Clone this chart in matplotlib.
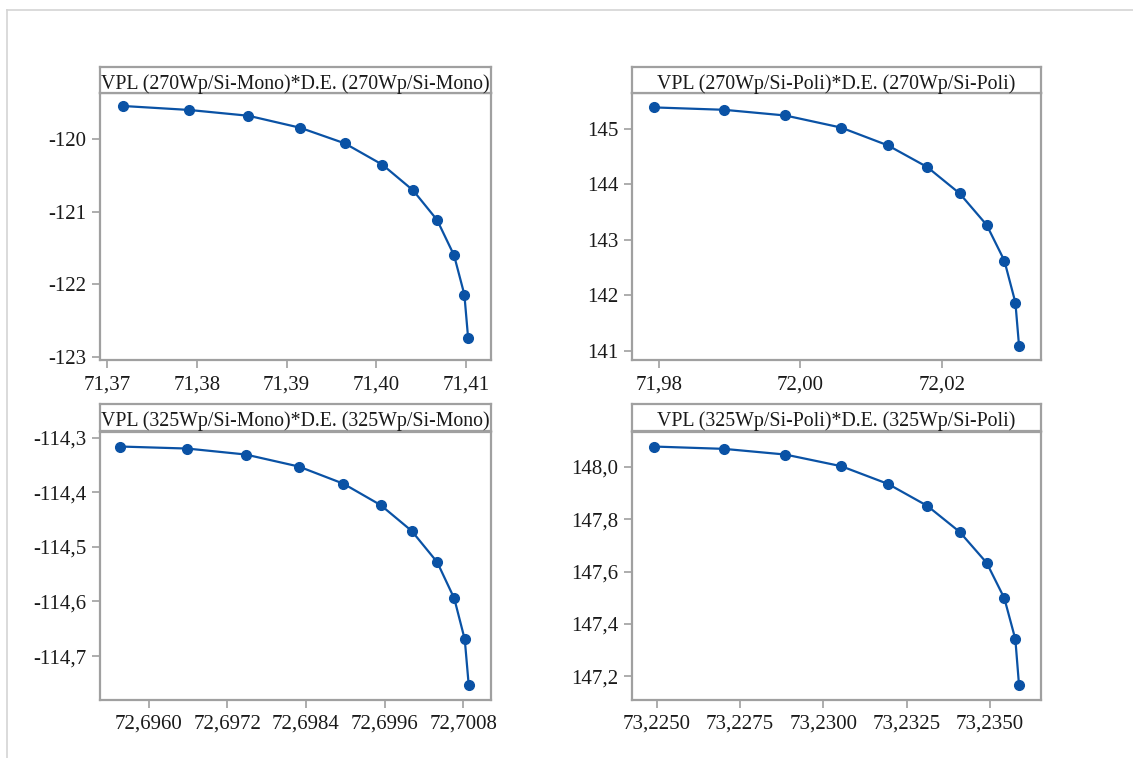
import matplotlib
matplotlib.use("Agg")
import matplotlib.pyplot as plt
from matplotlib.ticker import FuncFormatter
from matplotlib.lines import Line2D

plt.rcParams['font.family'] = ['Liberation Serif', 'DejaVu Serif']

# Datos
titulos = ["VPL (270Wp/Si-Mono)*D.E. (270Wp/Si-Mono)",
           "VPL (270Wp/Si-Poli)*D.E. (270Wp/Si-Poli)",
           "VPL (325Wp/Si-Mono)*D.E. (325Wp/Si-Mono)",
           "VPL (325Wp/Si-Poli)*D.E. (325Wp/Si-Poli)"]

mono270_x = [71.37182, 71.37911, 71.38575, 71.39152, 71.39650, 71.40069,
             71.40411, 71.40679, 71.40868, 71.40983, 71.41025]
mono270_y = [-119.546, -119.600, -119.680, -119.845, -120.060, -120.353,
             -120.706, -121.114, -121.600, -122.140, -122.740]

poli270_x = [71.97929, 71.98920, 71.99788, 72.00575, 72.01236, 72.01792,
             72.02250, 72.02632, 72.02882, 72.03038, 72.03090]
poli270_y = [145.388, 145.345, 145.242, 145.024, 144.703, 144.312,
             143.836, 143.267, 142.624, 141.867, 141.080]

mono325_x = [72.69557, 72.69659, 72.69748, 72.69829, 72.69897, 72.69954,
             72.70001, 72.70040, 72.70066, 72.70082, 72.70088]
mono325_y = [-114.3165, -114.3202, -114.3311, -114.3531, -114.3845, -114.4238,
             -114.4708, -114.5281, -114.5945, -114.6695, -114.7525]

poli325_x = [73.22492, 73.22702, 73.22886, 73.23054, 73.23194, 73.23312,
             73.23409, 73.23490, 73.23543, 73.23576, 73.23587]
poli325_y = [148.0778, 148.0689, 148.0472, 148.0026, 147.9349, 147.8510,
             147.7515, 147.6332, 147.4979, 147.3413, 147.1668]

xticks_1 = [71.37, 71.38, 71.39, 71.40, 71.41]
yticks_1 = [-123, -122, -121, -120]
xticks_2 = [71.98, 72.00, 72.02]
yticks_2 = [141, 142, 143, 144, 145]
xticks_3 = [72.6960, 72.6972, 72.6984, 72.6996, 72.7008]
yticks_3 = [-114.7, -114.6, -114.5, -114.4, -114.3]
xticks_4 = [73.2250, 73.2275, 73.2300, 73.2325, 73.2350]
yticks_4 = [147.2, 147.4, 147.6, 147.8, 148.0]

series = [
    (mono270_x, mono270_y, xticks_1, yticks_1, 2, 0, (71.3692, 71.4128), (-123.04, -119.367)),
    (poli270_x, poli270_y, xticks_2, yticks_2, 2, 0, (71.9762, 72.0340), (140.83, 145.648)),
    (mono325_x, mono325_y, xticks_3, yticks_3, 4, 1, (72.69526, 72.70122), (-114.7794, -114.289)),
    (poli325_x, poli325_y, xticks_4, yticks_4, 4, 1, (73.22426, 73.23653), (147.1107, 148.1353)),
]

W, H = 1133, 758
# posiciones en pixeles: (izq, der, arriba_titulo, abajo_titulo, abajo)
cajas = [(100, 491, 67, 93, 360),
         (632, 1041, 67, 93, 360),
         (100, 491, 404, 431.5, 699.5),
         (632, 1041, 404, 431.5, 699.5)]

gris = "#a0a0a0"
azul = "#0a52a5"

fig = plt.figure(figsize=(W / 100, H / 100), dpi=100)

# marco exterior
fig.add_artist(Line2D([7 / W, 7 / W], [0, 1 - 10 / H], color="#d4d4d4", lw=1.2))
fig.add_artist(Line2D([7 / W, 1], [1 - 10 / H, 1 - 10 / H], color="#d4d4d4", lw=1.2))

for (xs, ys, xt, yt, dec_x, dec_y, xl, yl), caja, titulo in zip(series, cajas, titulos):
    izq, der, t_arr, t_abj, abj = caja
    ax = fig.add_axes([izq / W, 1 - abj / H, (der - izq) / W, (abj - t_abj) / H])
    ax.plot(xs, ys, color=azul, lw=1.6, marker="o", markersize=7)
    ax.set_xlim(*xl)
    ax.set_ylim(*yl)
    ax.set_xticks(xt)
    ax.set_yticks(yt)
    ax.xaxis.set_major_formatter(FuncFormatter(lambda v, p, d=dec_x: f"{v:.{d}f}".replace(".", ",")))
    ax.yaxis.set_major_formatter(FuncFormatter(lambda v, p, d=dec_y: f"{v:.{d}f}".replace(".", ",")))
    ax.tick_params(direction="out", length=6, width=1.2, color=gris, labelsize=15,
                   labelcolor="#1a1a1a", top=False, right=False)
    ax.tick_params(axis="x", pad=5)
    ax.tick_params(axis="y", pad=4)
    for s in ax.spines.values():
        s.set_color(gris)
        s.set_linewidth(1.6)

    # franja del titulo
    axt = fig.add_axes([izq / W, 1 - t_abj / H, (der - izq) / W, (t_abj - t_arr) / H])
    axt.set_xticks([])
    axt.set_yticks([])
    for s in axt.spines.values():
        s.set_color(gris)
        s.set_linewidth(1.6)
    axt.text(0.5, 0.36, titulo, ha="center", va="center", fontsize=14.3,
             color="#1a1a1a", transform=axt.transAxes)

plt.savefig("out.png", dpi=100)
plt.close()
